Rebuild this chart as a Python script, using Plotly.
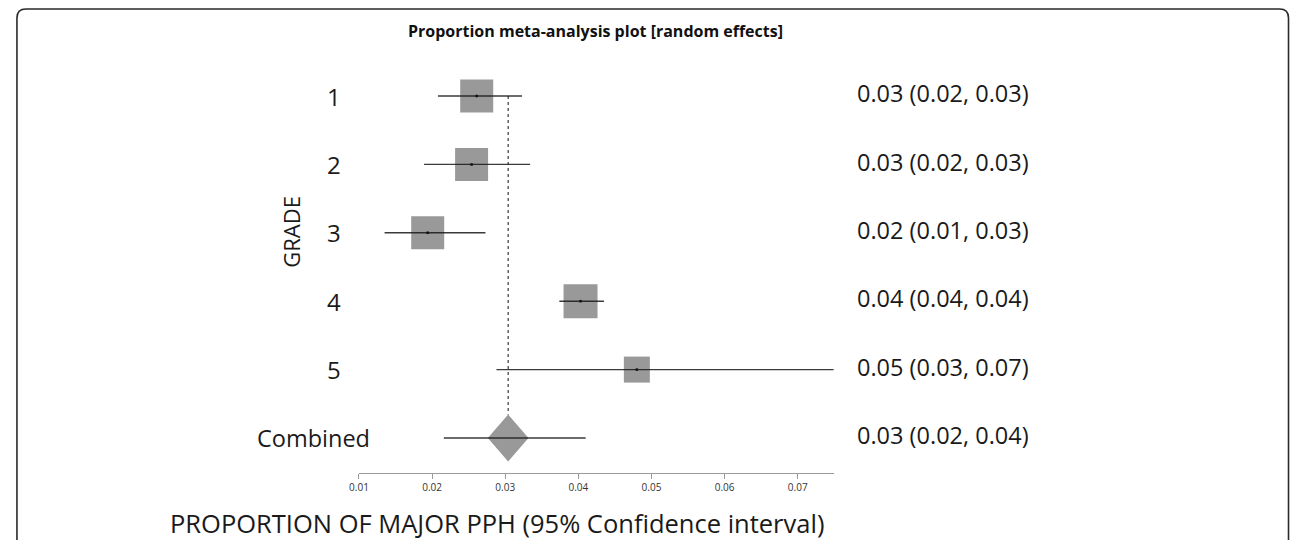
import plotly.graph_objects as go

# ---------------- data ----------------
labels = ["1", "2", "3", "4", "5", "Combined"]
est = [0.0261, 0.0254, 0.0194, 0.0403, 0.0480, 0.0304]
lo = [0.0208, 0.0189, 0.0135, 0.0374, 0.0288, 0.0216]
hi = [0.0323, 0.0334, 0.0273, 0.0435, 0.0760, 0.0410]
ci_text = ["0.03 (0.02, 0.03)", "0.03 (0.02, 0.03)", "0.02 (0.01, 0.03)",
           "0.04 (0.04, 0.04)", "0.05 (0.03, 0.07)", "0.03 (0.02, 0.04)"]
tick_vals = [0.01, 0.02, 0.03, 0.04, 0.05, 0.06, 0.07]
tick_text = ["0.01", "0.02", "0.03", "0.04", "0.05", "0.06", "0.07"]

# ---------------- style ----------------
W, H = 1290, 540
FONT = "Open Sans"
sq_sizes = [33, 33, 33, 34, 26]
gray = "#999999"
x_range = [0.01, 0.0749]
x_dom = [351.7 / W, 830 / W]
row_px0, row_step = 96, 68.4
axis_px, top_px = 473, 60
y_bottom = (axis_px - row_px0) / row_step + 1
y_top = (top_px - row_px0) / row_step + 1
y_dom = [(H - axis_px) / H, (H - top_px) / H]
dia_hw_px, dia_hh_px = 20.5, 23.5
px_per_x = (x_dom[1] - x_dom[0]) * W / (x_range[1] - x_range[0])

ypos = list(range(1, len(labels) + 1))
n_st = len(labels) - 1

fig = go.Figure()

# study squares
fig.add_trace(go.Scatter(
    x=est[:n_st], y=ypos[:n_st], mode="markers",
    marker=dict(symbol="square", size=sq_sizes, color=gray, opacity=1, line=dict(width=0)),
    hoverinfo="skip", showlegend=False))

# combined diamond
c = n_st
hw = dia_hw_px / px_per_x
hh = dia_hh_px / row_step
fig.add_trace(go.Scatter(
    x=[est[c] - hw, est[c], est[c] + hw, est[c], est[c] - hw],
    y=[ypos[c], ypos[c] - hh, ypos[c], ypos[c] + hh, ypos[c]],
    mode="lines", fill="toself", fillcolor=gray, line=dict(width=0, color=gray),
    hoverinfo="skip", showlegend=False))

# dotted reference line
fig.add_trace(go.Scatter(
    x=[est[c], est[c]], y=[ypos[0], ypos[c] - hh], mode="lines",
    line=dict(color="#111111", width=1, dash="dot"),
    hoverinfo="skip", showlegend=False))

# CI lines
for i in range(len(labels)):
    fig.add_trace(go.Scatter(
        x=[lo[i], hi[i]], y=[ypos[i], ypos[i]], mode="lines",
        line=dict(color="rgba(25,25,25,0.85)", width=1.4),
        hoverinfo="skip", showlegend=False))

# center dots
fig.add_trace(go.Scatter(
    x=est[:n_st], y=ypos[:n_st], mode="markers",
    marker=dict(symbol="square", size=2.5, color="#111111", opacity=1),
    hoverinfo="skip", showlegend=False))

# row labels and CI text
for i, lab in enumerate(labels):
    is_comb = lab == "Combined"
    xp = 306 if is_comb else 327
    fig.add_annotation(x=xp / W, xref="paper", y=ypos[i], yref="y", text=lab,
                       showarrow=False, xanchor="center", yanchor="middle",
                       font=dict(family=FONT, size=23.5 if is_comb else 24, color="#1a1a1a"))
    fig.add_annotation(x=852 / W, xref="paper", y=ypos[i] - 0.04, yref="y", text=ci_text[i],
                       showarrow=False, xanchor="left", yanchor="middle",
                       font=dict(family=FONT, size=23.5, color="#1a1a1a"))

# GRADE
fig.add_annotation(x=283 / W, xref="paper", y=1 - 232 / H, yref="paper", text="GRADE",
                   textangle=-90, showarrow=False, xanchor="center", yanchor="middle",
                   font=dict(family=FONT, size=22, color="#1a1a1a"))
# title
fig.add_annotation(x=590 / W, xref="paper", y=1 - 31 / H, yref="paper",
                   text="<b>Proportion meta-analysis plot [random effects]</b>",
                   showarrow=False, xanchor="center", yanchor="middle",
                   font=dict(family=FONT, size=16, color="#111111"))
# x axis title
fig.add_annotation(x=491 / W, xref="paper", y=1 - 523 / H, yref="paper",
                   text="PROPORTION OF MAJOR PPH (95% Confidence interval)",
                   showarrow=False, xanchor="center", yanchor="middle",
                   font=dict(family=FONT, size=25.5, color="#1a1a1a"))

# rounded frame
def fx(p):
    return p / W

def fy(p):
    return 1 - p / H

L, T, R, B, r = 7, 9, 1288.5, 560, 9
path = (f"M {fx(L)},{fy(B)} L {fx(L)},{fy(T + r)} Q {fx(L)},{fy(T)} {fx(L + r)},{fy(T)} "
        f"L {fx(R - r)},{fy(T)} Q {fx(R)},{fy(T)} {fx(R)},{fy(T + r)} L {fx(R)},{fy(B)}")
fig.add_shape(type="path", xref="paper", yref="paper", path=path,
              line=dict(color="#2a2a2a", width=1.6), layer="above")

fig.update_layout(
    width=W, height=H, margin=dict(l=0, r=0, t=0, b=0),
    paper_bgcolor="white", plot_bgcolor="white", showlegend=False,
    xaxis=dict(domain=x_dom, range=x_range, tickvals=tick_vals, ticktext=tick_text,
               showgrid=False, zeroline=False, showline=True, linecolor="#9a9a9a",
               linewidth=1, ticks="outside", ticklen=5, tickcolor="#9a9a9a",
               tickfont=dict(family=FONT, size=10, color="#333333")),
    yaxis=dict(domain=y_dom, range=[y_bottom, y_top], visible=False),
)

fig.write_html("out.html")
